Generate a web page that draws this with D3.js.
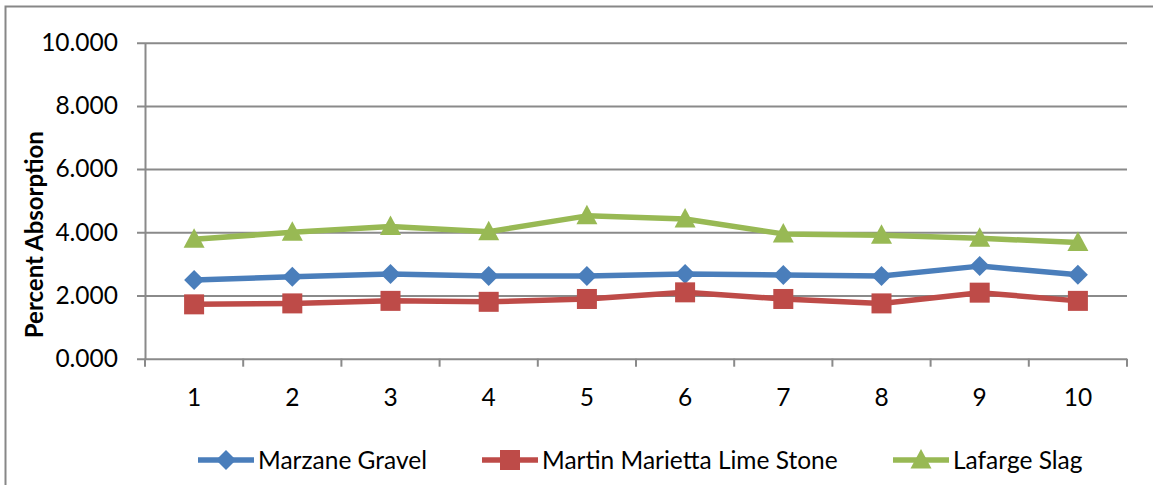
<!DOCTYPE html>
<html>
<head>
<meta charset="utf-8">
<script src="https://cdn.jsdelivr.net/npm/d3@7"></script>
<style>
  html, body { margin: 0; padding: 0; background: #fff; }
  svg { display: block; }
  text { font-family: Lato, "Open Sans", sans-serif; fill: #000; }
</style>
</head>
<body>
<svg id="chart" width="1153" height="485"></svg>
<script>
// Sample numbers along the x axis
const categories = ["1", "2", "3", "4", "5", "6", "7", "8", "9", "10"];

// Percent absorption per aggregate source
const marzaneGravel = [2.49, 2.59, 2.68, 2.62, 2.62, 2.68, 2.65, 2.62, 2.93, 2.66];
const martinMariettaLimeStone = [1.72, 1.75, 1.83, 1.80, 1.89, 2.10, 1.89, 1.75, 2.09, 1.83];
const lafargeSlag = [3.78, 4.00, 4.18, 4.02, 4.52, 4.42, 3.95, 3.91, 3.81, 3.68];

const seriesNames = ["Marzane Gravel", "Martin Marietta Lime Stone", "Lafarge Slag"];
const yTicks = [0, 2, 4, 6, 8, 10];

const series = [
  { name: seriesNames[0], values: marzaneGravel, color: "#4A7EBB", marker: "diamond" },
  { name: seriesNames[1], values: martinMariettaLimeStone, color: "#BE4B48", marker: "square" },
  { name: seriesNames[2], values: lafargeSlag, color: "#98B954", marker: "triangle" }
];

const svg = d3.select("#chart");
const gridColor = "#8a8a8a";

// Outer chart frame
svg.append("rect")
  .attr("x", 5.5).attr("y", 6.5)
  .attr("width", 1160).attr("height", 500)
  .attr("fill", "none").attr("stroke", "#878787").attr("stroke-width", 2);

const plot = { left: 145, right: 1127, top: 42.7, bottom: 358.7 };

const x = d3.scaleBand().domain(categories).range([plot.left, plot.right]).padding(0);
const y = d3.scaleLinear().domain([0, 10]).range([plot.bottom, plot.top]);
const cx = d => x(d) + x.bandwidth() / 2;

// Horizontal gridlines with the left tick marks
const yAxis = d3.axisLeft(y).tickValues(yTicks).tickFormat(d3.format(".3f"))
  .tickSizeInner(-(plot.right - plot.left)).tickSizeOuter(0).tickPadding(27);
const gy = svg.append("g").attr("transform", `translate(${plot.left},0)`).call(yAxis);
gy.select(".domain").attr("stroke", gridColor).attr("stroke-width", 2);
gy.selectAll(".tick line").attr("stroke", gridColor).attr("stroke-width", 2)
  .attr("x1", -8);
gy.selectAll(".tick text").style("font-size", "24.5px").attr("fill", "#000");

// Category axis: tick marks fall between categories
const gx = svg.append("g").attr("transform", `translate(0,${plot.bottom})`)
  .call(d3.axisBottom(x).tickSize(0).tickPadding(30));
gx.select(".domain").remove();
gx.selectAll(".tick text").style("font-size", "24.5px").attr("fill", "#000");
const boundaries = categories.map(c => x(c)).concat([x(categories[categories.length - 1]) + x.bandwidth()]);
svg.append("g").selectAll("line").data(boundaries).join("line")
  .attr("x1", d => d).attr("x2", d => d)
  .attr("y1", plot.bottom).attr("y2", plot.bottom + 8)
  .attr("stroke", gridColor).attr("stroke-width", 2);

// Y axis title
svg.append("text")
  .attr("transform", `translate(43,${(plot.top + plot.bottom) / 2 + 34}) rotate(-90)`)
  .attr("text-anchor", "middle")
  .style("font-size", "24px").style("font-weight", "bold")
  .text("Percent Absorption");

// Marker shapes
function drawMarker(g, type, color) {
  if (type === "diamond") {
    g.append("path").attr("d", "M0,-10 L10,0 L0,10 L-10,0 Z").attr("fill", color);
  } else if (type === "square") {
    g.append("rect").attr("x", -10).attr("y", -10).attr("width", 20).attr("height", 20).attr("fill", color);
  } else {
    g.append("path").attr("d", "M0,-11 L10.5,8.5 L-10.5,8.5 Z").attr("fill", color);
  }
}

const line = d3.line().x((d, i) => cx(categories[i])).y(d => y(d));

series.forEach(s => {
  const g = svg.append("g");
  g.append("path").datum(s.values)
    .attr("d", line).attr("fill", "none")
    .attr("stroke", s.color).attr("stroke-width", 5.5).attr("stroke-linejoin", "round");
  s.values.forEach((v, i) => {
    const m = g.append("g").attr("transform", `translate(${cx(categories[i])},${y(v)})`);
    drawMarker(m, s.marker, s.color);
  });
});

// Legend
const legendX = [198, 482, 893];
const legendY = 460;
series.forEach((s, i) => {
  const g = svg.append("g").attr("transform", `translate(${legendX[i]},${legendY})`);
  g.append("line").attr("x1", 0).attr("x2", 56).attr("y1", 0).attr("y2", 0)
    .attr("stroke", s.color).attr("stroke-width", 5.5);
  const m = g.append("g").attr("transform", "translate(28,0)");
  drawMarker(m, s.marker, s.color);
  g.append("text").attr("x", 60).attr("y", 0).attr("dy", "0.35em")
    .style("font-size", "24.5px").text(s.name);
});
</script>
</body>
</html>
